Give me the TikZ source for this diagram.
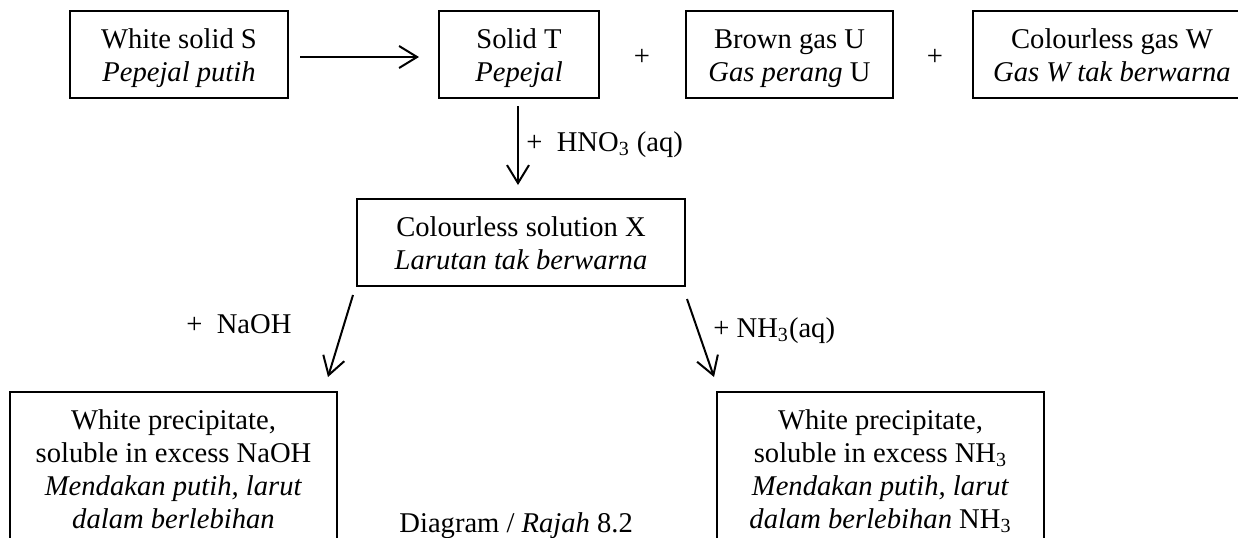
\documentclass[tikz,border=0pt]{standalone}
\usepackage{fontspec}
\setmainfont{Liberation Serif}
\usetikzlibrary{arrows.meta}
\newcommand\ls{\rule[-3.5pt]{0pt}{17pt}}
\tikzset{
  txt/.style={font=\fontsize{14.3}{16.5}\selectfont, inner sep=0pt},
  box/.style={txt, draw, line width=1pt, align=center, minimum height=43.5pt},
  arr/.style={line width=1pt, -{Straight Barb[length=9pt,width=11pt,line width=1pt]}},
}
\begin{document}
\lineskiplimit=-20pt
\begin{tikzpicture}[x=0.5pt,y=-0.5pt]
\useasboundingbox (0,0) rectangle (1238,537);
\clip (0,0) rectangle (1238,537);
% boxes
\node[box, minimum width=109pt] (S) at (179,54.5) {\ls White solid S\\\ls\textit{Pepejal putih}};
\node[box, minimum width=80pt] (T) at (519,54.5) {\ls Solid T\\\ls\textit{Pepejal}};
\node[box, minimum width=103.5pt] (U) at (789.5,54.5) {\ls Brown gas U\\\ls\textit{Gas perang} U};
\node[box, minimum width=139pt] (W) at (1112,54.5) {\ls Colourless gas W\\\ls\textit{Gas W tak berwarna}};
\node[box, minimum width=164pt] (X) at (521,242.5) {\ls Colourless solution X\\\ls\textit{Larutan tak berwarna}};
\node[box, minimum width=163.5pt, minimum height=76.5pt] (L) at (173.5,468.5)
  {\ls White precipitate,\\\ls soluble in excess NaOH\\\ls\textit{Mendakan putih, larut}\\\ls\textit{dalam berlebihan}};
\node[box, minimum width=163.5pt, minimum height=76.5pt] (R) at (880.5,468.5)
  {\ls White precipitate,\\\ls soluble in excess NH\textsubscript{3}\\\ls\textit{Mendakan putih, larut}\\\ls\textit{dalam berlebihan} NH\textsubscript{3}};
% plus signs
\node[txt] (p1) at (642,57) {+};
\node[txt] (p2) at (935,57) {+};
% labels
\node[txt, anchor=base west] (lh) at (526,151) {+\ \ HNO\textsubscript{3} (aq)};
\node[txt, anchor=base west] (ln) at (186,333) {+\ \ NaOH};
\node[txt, anchor=base west] (lk) at (713,337) {+ NH\textsubscript{3}(aq)};
\node[txt, anchor=base west] (cap) at (399,532) {Diagram / \textit{Rajah} 8.2};
% arrows
\draw[arr] ([shift={(11,2.5)}]S.east) -- ([shift={(-19,2.5)}]T.west);
\draw[arr] ([shift={(-1,7)}]T.south) -- ([shift={(-3,-13)}]X.north);
\draw[arr] ([shift={(-3,8)}]X.south west) -- ([shift={(-10,-14)}]L.north east);
\draw[arr] ([shift={(1,12)}]X.south east) -- ([shift={(-2,-14)}]R.north west);
\end{tikzpicture}
\end{document}
